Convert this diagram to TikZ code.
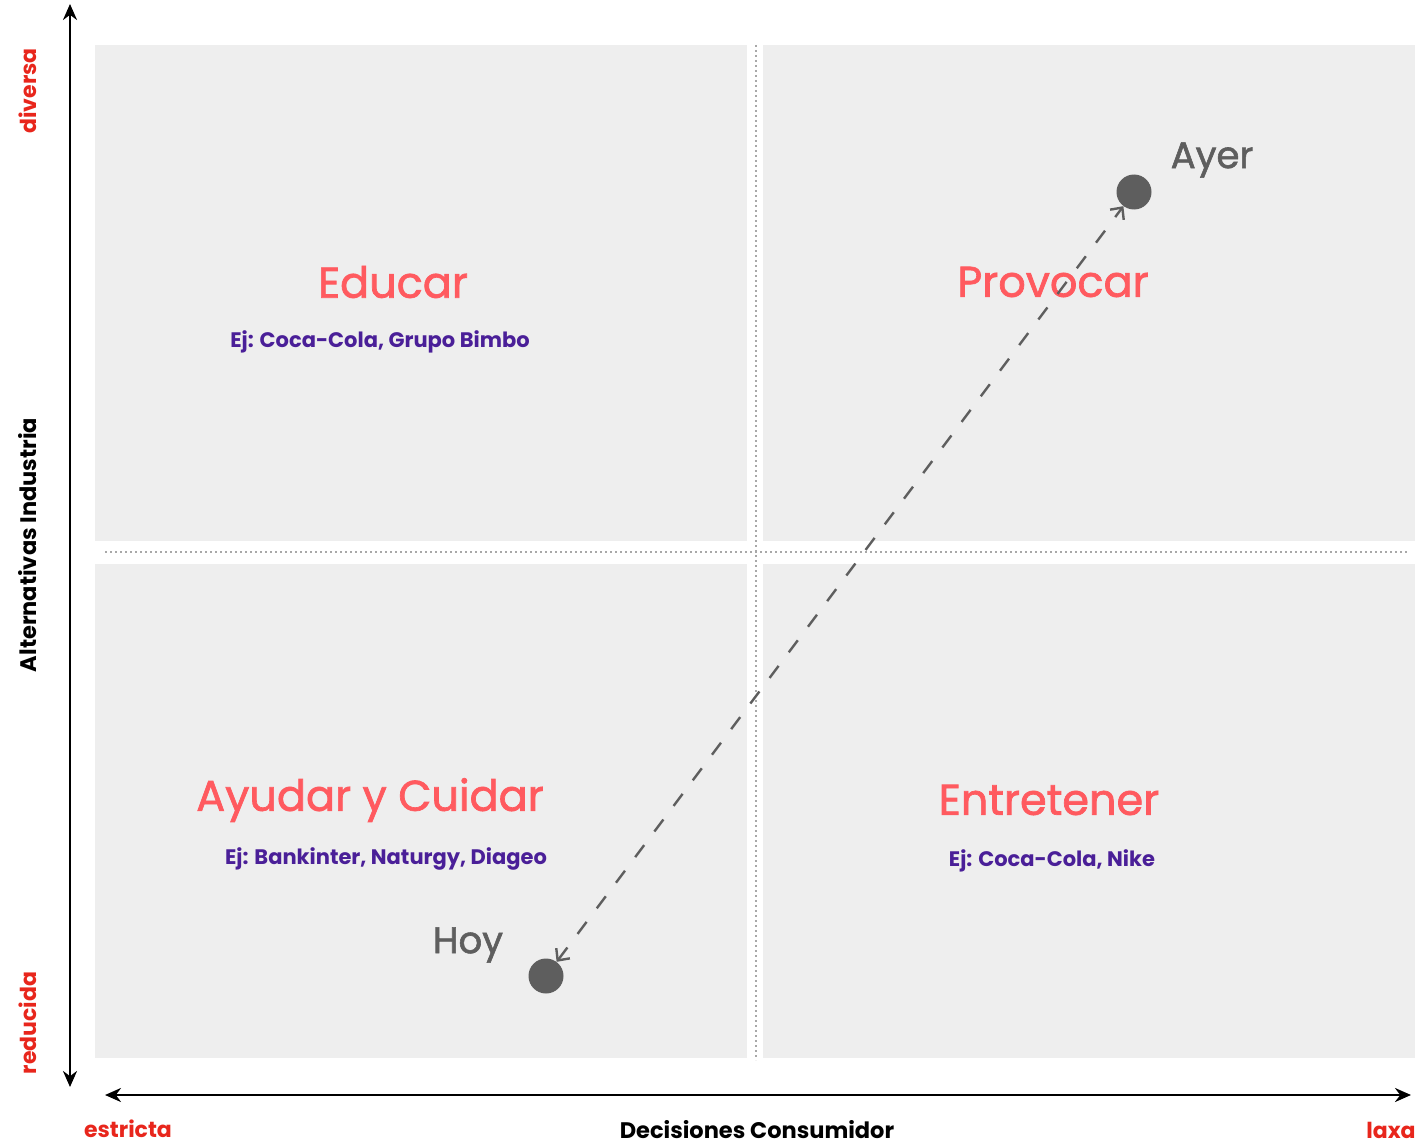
\documentclass[tikz,border=0pt]{standalone}
\usepackage{fontspec}
\setmainfont{Poppins}
\newfontfamily\mediumface[FakeBold=1.6]{Poppins}
\usetikzlibrary{arrows.meta}
\definecolor{panel}{HTML}{EEEEEE}
\definecolor{titlered}{HTML}{FF5A5F}
\definecolor{axisred}{HTML}{E8261C}
\definecolor{expurple}{HTML}{4A1F98}
\definecolor{markgray}{HTML}{5E5E5E}
\definecolor{gridgray}{HTML}{A8A8A8}
\begin{document}
\begin{tikzpicture}[x=1pt,y=-1pt,
  quad/.style={fill=panel,draw=none},
  qtitle/.style={text=titlered,font=\mediumface\fontsize{43}{47}\selectfont,inner sep=0pt},
  qexample/.style={text=expurple,font=\bfseries\fontsize{21}{24}\selectfont,inner sep=0pt},
  axislabel/.style={text=black,font=\bfseries\fontsize{22.5}{26}\selectfont,inner sep=0pt},
  endlabel/.style={text=axisred,font=\bfseries\fontsize{22}{26}\selectfont,inner sep=0pt},
  axisline/.style={line width=2.6pt,{Stealth[length=16pt,width=14pt]}-{Stealth[length=16pt,width=14pt]}},
  gridline/.style={draw=gridgray,line width=2pt,dash pattern=on 2pt off 3pt},
  timedot/.style={circle,fill=markgray,minimum size=35pt,inner sep=0pt},
  timelabel/.style={text=markgray,font=\mediumface\fontsize{37}{41}\selectfont,inner sep=0pt},
  move/.style={draw=markgray,line width=2.4pt,dash pattern=on 15pt off 17pt,
    {Straight Barb[length=9pt,width=17pt]}-{Straight Barb[length=9pt,width=17pt]}}
]
\useasboundingbox (0,0) rectangle (1422,1145);

% four quadrants
\fill[quad] (95,45) rectangle (747,541);
\fill[quad] (763,45) rectangle (1415,541);
\fill[quad] (95,564) rectangle (747,1058);
\fill[quad] (763,564) rectangle (1415,1058);

% dotted separators
\coordinate (hl) at (105,552);
\coordinate (hr) at (1407,552);
\coordinate (vt) at (756,45);
\coordinate (vb) at (756,1060);
\draw[gridline] (hl) -- (hr);
\draw[gridline] (vt) -- (vb);

% axes
\coordinate (ytop) at (70,4);
\coordinate (ybot) at (70,1087);
\coordinate (xl) at (105,1095);
\coordinate (xr) at (1411,1095);
\draw[axisline] (ybot) -- (ytop);
\draw[axisline] (xl) -- (xr);

% axis labels
\node[axislabel,rotate=90] (yname) at (28,545) {Alternativas Industria};
\node[endlabel,rotate=90] (ymax) at (28,91) {diversa};
\node[endlabel,rotate=90] (ymin) at (28,1023) {reducida};
\node[axislabel] (xname) at (757,1130) {Decisiones Consumidor};
\node[endlabel] (xmin) at (128,1129) {estricta};
\node[endlabel] (xmax) at (1391,1130) {laxa};

% quadrant titles and examples
\node[qtitle] (educar) at (393,282) {Educar};
\node[qexample] (educarex) at (380,342) {Ej: Coca-Cola, Grupo Bimbo};
\node[qtitle] (provocar) at (1053,282) {Provocar};
\node[qtitle] (ayudar) at (370,800) {Ayudar y Cuidar};
\node[qexample] (ayudarex) at (386,859) {Ej: Bankinter, Naturgy, Diageo};
\node[qtitle] (entretener) at (1049,800) {Entretener};
\node[qexample] (entretenerex) at (1052,861) {Ej: Coca-Cola, Nike};

% positions then and now
\node[timedot] (ayer) at (1134,192) {};
\node[timedot] (hoy) at (546,976) {};
\node[timelabel] (ayertxt) at (1212,160) {Ayer};
\node[timelabel] (hoytxt) at (468,945) {Hoy};
\draw[move] (hoy) -- (ayer);
\end{tikzpicture}
\end{document}
